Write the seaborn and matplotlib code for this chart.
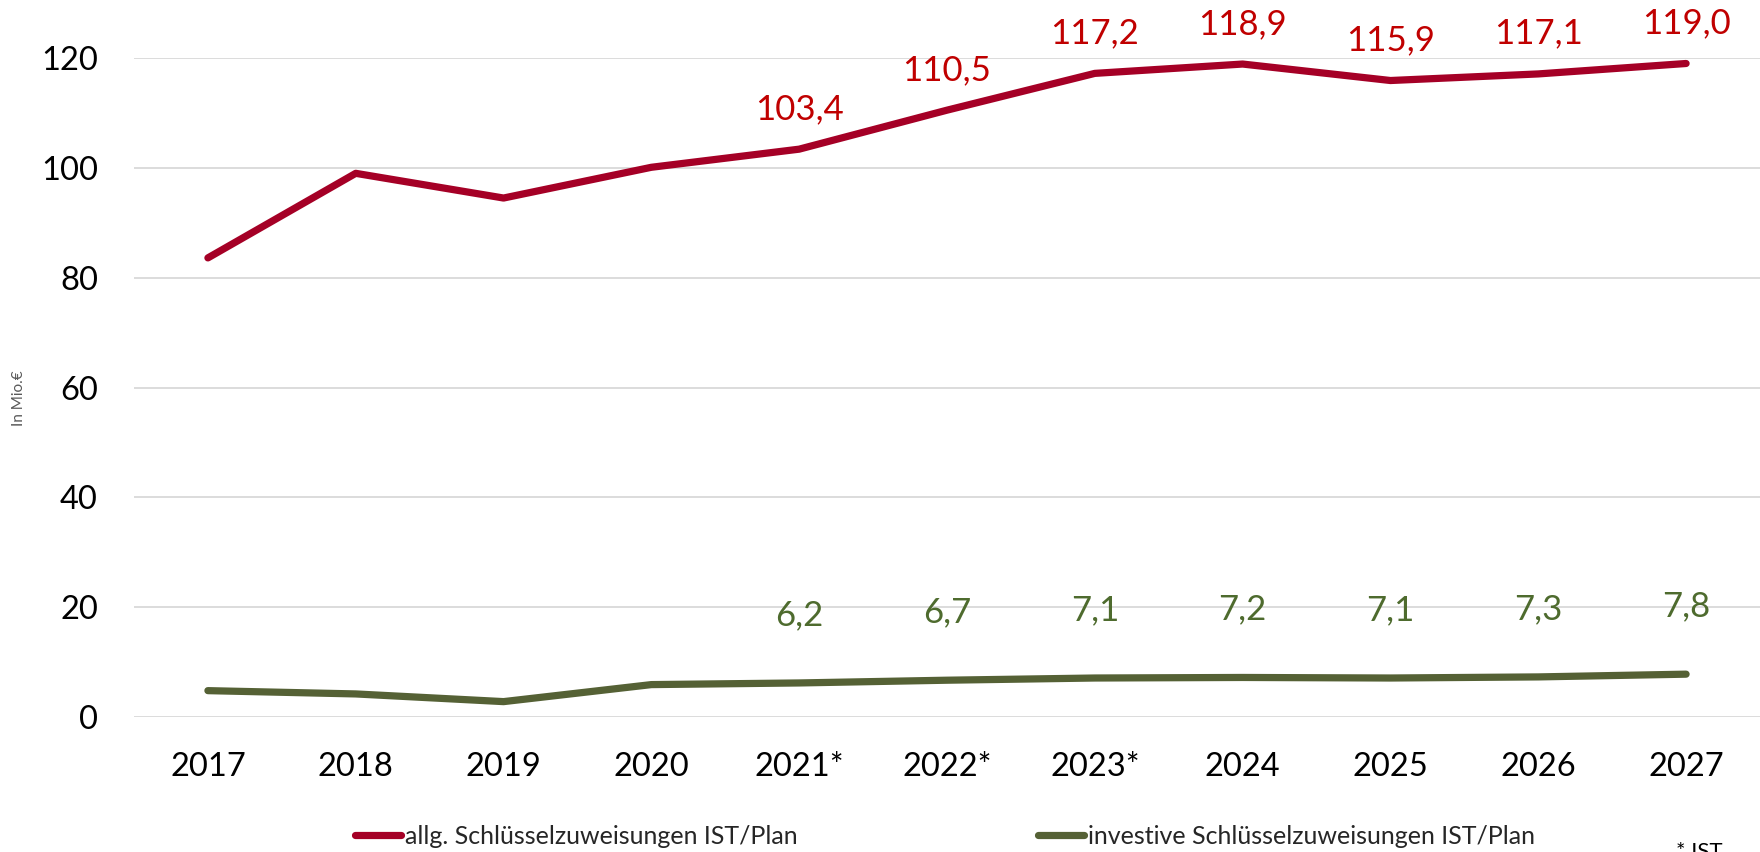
import pandas as pd
import matplotlib
matplotlib.use("Agg")
import matplotlib.pyplot as plt
import seaborn as sns

# Daten

years = ["2017", "2018", "2019", "2020", "2021*", "2022*", "2023*",
         "2024", "2025", "2026", "2027"]

allg = [83.6, 99.0, 94.5, 100.1, 103.4, 110.5, 117.2, 118.9, 115.9, 117.1, 119.0]
invest = [4.8, 4.2, 2.8, 5.9, 6.2, 6.7, 7.1, 7.2, 7.1, 7.3, 7.8]

label_start = 4  # Datenbeschriftung ab 2021*

name_allg = "allg. Schlüsselzuweisungen IST/Plan"
name_invest = "investive Schlüsselzuweisungen IST/Plan"

red = "#A50026"
green = "#556135"
red_txt = "#C00000"
green_txt = "#4E6B2E"

df = pd.DataFrame({
    "Jahr": years * 2,
    "Wert": allg + invest,
    "Reihe": [name_allg] * len(years) + [name_invest] * len(years)
})

sns.set_style("white")
plt.rcParams["font.family"] = ["Lato", "DejaVu Sans"]

fig = plt.figure(figsize=(17.6, 8.52), dpi=100)
ax = fig.add_axes([134 / 1760, 1 - 717 / 852, 1 - 134 / 1760, (717 - 58) / 852])

sns.lineplot(
    data=df,
    x="Jahr",
    y="Wert",
    hue="Reihe",
    palette=[red, green],
    linewidth=5.2,
    solid_capstyle="round",
    solid_joinstyle="round",
    sort=False,
    ax=ax
)

# Datenbeschriftungen

for i in range(label_start, len(years)):
    ax.annotate(
        f"{allg[i]:.1f}".replace(".", ","),
        (i, allg[i]),
        xytext=(0, 29),
        textcoords="offset points",
        ha="center",
        va="center",
        fontsize=25,
        color=red_txt,
        annotation_clip=False
    )
    ax.annotate(
        f"{invest[i]:.1f}".replace(".", ","),
        (i, invest[i]),
        xytext=(0, 49),
        textcoords="offset points",
        ha="center",
        va="center",
        fontsize=25,
        color=green_txt,
        annotation_clip=False
    )

ax.set_xlim(-0.5, len(years) - 0.5)
ax.set_ylim(0, 120)
ax.set_yticks(range(0, 121, 20))

ax.yaxis.grid(True, color="#D9D9D9", linewidth=1.3)
ax.xaxis.grid(False)
sns.despine(ax=ax, left=True, bottom=True, top=True, right=True)

ax.tick_params(axis="both", length=0, labelsize=23.5, colors="black")
ax.tick_params(axis="x", pad=25)
ax.tick_params(axis="y", pad=26)

ax.set_xlabel("")
ax.set_ylabel("")
fig.text(19 / 1760, 1 - 398 / 852, "In Mio.€", rotation=90,
         ha="center", va="center", fontsize=11, color="#595959")

# Legende

handles, labels = ax.get_legend_handles_labels()
ax.get_legend().remove()

fig.legend(
    handles,
    labels,
    loc="center left",
    bbox_to_anchor=(355 / 1760, 1 - 836 / 852),
    ncol=2,
    frameon=False,
    fontsize=18,
    handlelength=1.85,
    handletextpad=0.16,
    columnspacing=9.6,
    borderpad=0,
    borderaxespad=0
)

fig.text(1676 / 1760, 1 - 842 / 852, "* IST", ha="left", va="top",
         fontsize=16, color="black")

fig.savefig("out.png", dpi=100)
